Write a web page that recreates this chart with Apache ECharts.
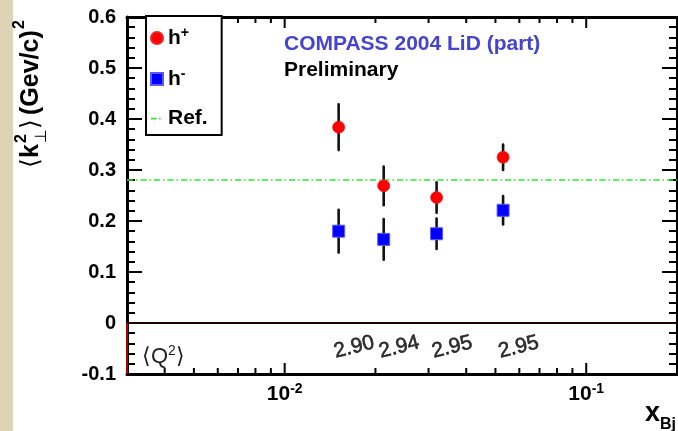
<!DOCTYPE html>
<html><head><meta charset="utf-8">
<script src="https://cdn.jsdelivr.net/npm/echarts@6/dist/echarts.min.js"></script>
<style>html,body{margin:0;padding:0;background:#fff}#c{width:678px;height:431px}</style>
</head><body><div id="c"></div>
<script>
// ---- data ----
const xBj = [0.0151, 0.0213, 0.0319, 0.0530];
const hPlus = [0.384, 0.269, 0.246, 0.325];
const hPlusErr = [0.045, 0.038, 0.030, 0.025];
const hMinus = [0.180, 0.164, 0.175, 0.221];
const hMinusErr = [0.042, 0.040, 0.030, 0.028];
const q2Labels = ['2.90', '2.94', '2.95', '2.95'];
const refValue = 0.28;
const xMajorTicks = [0.01, 0.1];
const xMajorExp = ['-2', '-1'];
const xMinorTicks = [0.003, 0.004, 0.005, 0.006, 0.007, 0.008, 0.009,
  0.02, 0.03, 0.04, 0.05, 0.06, 0.07, 0.08, 0.09, 0.2];

const X_MIN = 0.003, X_MAX = 0.2, Y_MIN = -0.1, Y_MAX = 0.6;
const Q2_Y = -0.055;

const chart = echarts.init(document.getElementById('c'), null, {renderer: 'canvas'});

const tickData = xMajorTicks.map((v, i) => [v, Y_MIN, 1]).concat(xMinorTicks.map(v => [v, Y_MIN, 0]));

function errRender(params, api) {
  const x = api.value(0), y = api.value(1), e = api.value(2);
  const p1 = api.coord([x, y - e]);
  const p2 = api.coord([x, y + e]);
  return {
    type: 'line',
    shape: {x1: p1[0], y1: p1[1], x2: p2[0], y2: p2[1]},
    style: {stroke: '#111', lineWidth: 2.6, lineCap: 'round'}
  };
}
function tickRender(params, api) {
  const v = api.value(0), major = api.value(2);
  const b = api.coord([v, Y_MIN]);
  const t = api.coord([v, Y_MAX]);
  const len = major ? 11 : 6;
  return {type: 'group', children: [
    {type: 'line', shape: {x1: b[0], y1: b[1], x2: b[0], y2: b[1] - len}, style: {stroke: '#000', lineWidth: 2}},
    {type: 'line', shape: {x1: t[0], y1: t[1], x2: t[0], y2: t[1] + len}, style: {stroke: '#000', lineWidth: 2}}
  ]};
}

const yAxisCommon = {
  type: 'value', min: Y_MIN, max: Y_MAX, interval: 0.1,
  splitLine: {show: false},
  axisTick: {show: true, inside: true, length: 15, lineStyle: {color: '#000', width: 2}},
  minorTick: {show: true, splitNumber: 5, length: 8, lineStyle: {color: '#000', width: 2}},
  minorSplitLine: {show: false}
};

// thin horizontal dash + dot icon for the reference line
const refIcon = 'path://M0,0h0.01v0.01h-0.01z M0,5.3h5.5v1.6h-5.5z M8,5.3h1.6v1.6h-1.6z M11.99,11.99h0.01v0.01h-0.01z';

const option = {
  backgroundColor: '#fff',
  animation: false,
  grid: {left: 127, right: 1, top: 17, bottom: 57, containLabel: false},
  xAxis: [
    {
      type: 'log', logBase: 10, min: X_MIN, max: X_MAX,
      position: 'bottom',
      axisLine: {show: true, onZero: false, lineStyle: {color: '#000', width: 3}},
      axisTick: {show: false}, splitLine: {show: false},
      axisLabel: {
        show: true, margin: 8, customValues: xMajorTicks,
        formatter: function (v) {
          const i = xMajorTicks.findIndex(t => Math.abs(t - v) / t < 1e-6);
          return i < 0 ? '' : '{n|10}{e|' + xMajorExp[i] + '}';
        },
        rich: {
          n: {fontFamily: 'Liberation Sans', fontWeight: 'bold', fontSize: 21, color: '#000', lineHeight: 24},
          e: {fontFamily: 'Liberation Sans', fontWeight: 'bold', fontSize: 14, color: '#000', lineHeight: 14, verticalAlign: 'top'}
        }
      }
    },
    {
      type: 'log', logBase: 10, min: X_MIN, max: X_MAX,
      position: 'top',
      axisLine: {show: true, onZero: false, lineStyle: {color: '#000', width: 3}},
      axisTick: {show: false}, splitLine: {show: false}, axisLabel: {show: false}
    }
  ],
  yAxis: [
    Object.assign({}, yAxisCommon, {
      position: 'left',
      axisLine: {show: true, onZero: false, lineStyle: {color: '#000', width: 3}},
      axisLabel: {show: true, margin: 11, fontFamily: 'Liberation Sans', fontWeight: 'bold', fontSize: 20, color: '#000'}
    }),
    Object.assign({}, yAxisCommon, {
      position: 'right',
      axisLine: {show: true, onZero: false, lineStyle: {color: '#000', width: 2}},
      axisLabel: {show: false}
    })
  ],
  legend: {
    orient: 'vertical', left: 146, top: 16,
    padding: [10, 14, 6, 4],
    itemWidth: 12, itemHeight: 12, itemGap: 18.5,
    backgroundColor: '#fff', borderColor: '#000', borderWidth: 2,
    z: 20,
    data: [{name: 'h+', icon: 'circle'}, {name: 'h-', icon: 'rect'}, {name: 'Ref.', icon: refIcon}],
    formatter: function (name) {
      if (name === 'h+') return '{m|h}{p|+}';
      if (name === 'h-') return '{m|h}{p|-}';
      return '{m|Ref.}';
    },
    textStyle: {
      rich: {
        m: {fontFamily: 'Liberation Sans', fontWeight: 'bold', fontSize: 21, lineHeight: 24, color: '#000'},
        p: {fontFamily: 'Liberation Sans', fontWeight: 'bold', fontSize: 14, lineHeight: 14, color: '#000', verticalAlign: 'top'}
      }
    },
    selectedMode: false
  },
  series: [
    {
      name: 'ticks', type: 'custom', renderItem: tickRender, data: tickData,
      xAxisIndex: 0, yAxisIndex: 0, silent: true, z: 5, clip: false
    },
    {
      name: 'Ref.', type: 'line', data: [], symbol: 'none',
      lineStyle: {color: '#2ee82e', width: 1.6, type: [6, 3, 1.5, 3]},
      itemStyle: {color: '#2ee82e'},
      markLine: {
        silent: true, symbol: 'none', label: {show: false},
        lineStyle: {color: '#2ee82e', width: 1.6, type: [6, 3, 1.5, 3]},
        data: [{yAxis: refValue}]
      }
    },
    {
      name: 'zero', type: 'line', data: [], symbol: 'none',
      markLine: {
        silent: true, symbol: 'none', label: {show: false},
        lineStyle: {color: '#1a0000', width: 2.2, type: 'solid'},
        data: [{yAxis: 0}]
      }
    },
    {
      name: 'edge', type: 'line', symbol: 'none', silent: true, z: 10,
      data: [[X_MIN, 0], [X_MIN, Y_MIN]],
      lineStyle: {color: '#e00000', width: 1.5}
    },
    {
      name: 'errPlus', type: 'custom', renderItem: errRender, z: 3,
      data: xBj.map((x, i) => [x, hPlus[i], hPlusErr[i]])
    },
    {
      name: 'errMinus', type: 'custom', renderItem: errRender, z: 3,
      data: xBj.map((x, i) => [x, hMinus[i], hMinusErr[i]])
    },
    {
      name: 'h+', type: 'scatter', symbol: 'circle', symbolSize: 12, z: 6,
      itemStyle: {color: '#ff0000', borderColor: '#ee2222', borderWidth: 0.8, opacity: 1},
      data: xBj.map((x, i) => [x, hPlus[i]])
    },
    {
      name: 'h-', type: 'scatter', symbol: 'rect', symbolSize: 12, z: 6,
      itemStyle: {color: '#0000ff', borderColor: '#5a5aff', borderWidth: 1, opacity: 1},
      data: xBj.map((x, i) => [x, hMinus[i]])
    },
    {
      name: 'q2', type: 'scatter', symbolSize: 0, silent: true, z: 7,
      data: xBj.map((x, i) => [x, Q2_Y]),
      label: {
        show: true, position: 'inside', offset: [16, 0], rotate: 14,
        formatter: p => q2Labels[p.dataIndex],
        fontFamily: 'Liberation Sans', fontSize: 21, color: '#000',
        textBorderColor: '#000', textBorderWidth: 0.6
      }
    }
  ],
  graphic: [
    {type: 'rect', left: 0, top: 0, shape: {width: 13, height: 431}, style: {fill: '#dcd4b4'}, z: -10},
    {
      type: 'text', x: 284, y: 44, z: 30,
      style: {text: 'COMPASS 2004 LiD (part)', font: 'bold 21px "Liberation Sans"', fill: '#4444cc',
        align: 'left', verticalAlign: 'middle', textAlign: 'left', textVerticalAlign: 'middle'}
    },
    {
      type: 'text', x: 284, y: 70, z: 30,
      style: {text: 'Preliminary', font: 'bold 21px "Liberation Sans"', fill: '#000',
        align: 'left', verticalAlign: 'middle', textAlign: 'left', textVerticalAlign: 'middle'}
    },
    {
      type: 'text', x: 142, y: 357, z: 30,
      style: {
        text: '{a|⟨Q}{s|2}{a|⟩}',
        verticalAlign: 'middle', textVerticalAlign: 'middle',
        rich: {
          a: {fontFamily: 'Liberation Sans', fontSize: 22, fill: '#222', lineHeight: 26},
          s: {fontFamily: 'Liberation Sans', fontSize: 14, fill: '#222', lineHeight: 14, verticalAlign: 'top'}
        }
      }
    },
    {
      type: 'text', x: 645, y: 414, z: 30,
      style: {text: 'x', font: 'bold 27px "Liberation Sans"', fill: '#000',
        align: 'left', verticalAlign: 'middle', textAlign: 'left', textVerticalAlign: 'middle'}
    },
    {
      type: 'text', x: 660, y: 425, z: 30,
      style: {text: 'Bj', font: 'bold 16px "Liberation Sans"', fill: '#000',
        align: 'left', verticalAlign: 'middle', textAlign: 'left', textVerticalAlign: 'middle'}
    },
    {
      type: 'group', x: 31, y: 168, rotation: Math.PI / 2, z: 30,
      children: [
        {type: 'text', x: 0, y: 0, style: {text: '⟨', font: '25px "DejaVu Sans"', fill: '#000', align: 'left', verticalAlign: 'middle'}},
        {type: 'text', x: 10, y: 0, style: {text: 'k', font: 'bold 25px "Liberation Sans"', fill: '#000', align: 'left', verticalAlign: 'middle'}},
        {type: 'text', x: 25, y: -9, style: {text: '2', font: 'bold 16px "Liberation Sans"', fill: '#000', align: 'left', verticalAlign: 'middle'}},
        {type: 'text', x: 25, y: 11, style: {text: '⊥', font: '16px "DejaVu Sans"', fill: '#000', align: 'left', verticalAlign: 'middle'}},
        {type: 'text', x: 39, y: 0, style: {text: '⟩', font: '25px "DejaVu Sans"', fill: '#000', align: 'left', verticalAlign: 'middle'}},
        {type: 'text', x: 53, y: 0, style: {text: '(Gev/c)', font: 'bold 25px "Liberation Sans"', fill: '#000', align: 'left', verticalAlign: 'middle'}},
        {type: 'text', x: 139, y: -11, style: {text: '2', font: 'bold 16px "Liberation Sans"', fill: '#000', align: 'left', verticalAlign: 'middle'}}
      ]
    }
  ]
};
chart.setOption(option);
</script>
</body></html>
